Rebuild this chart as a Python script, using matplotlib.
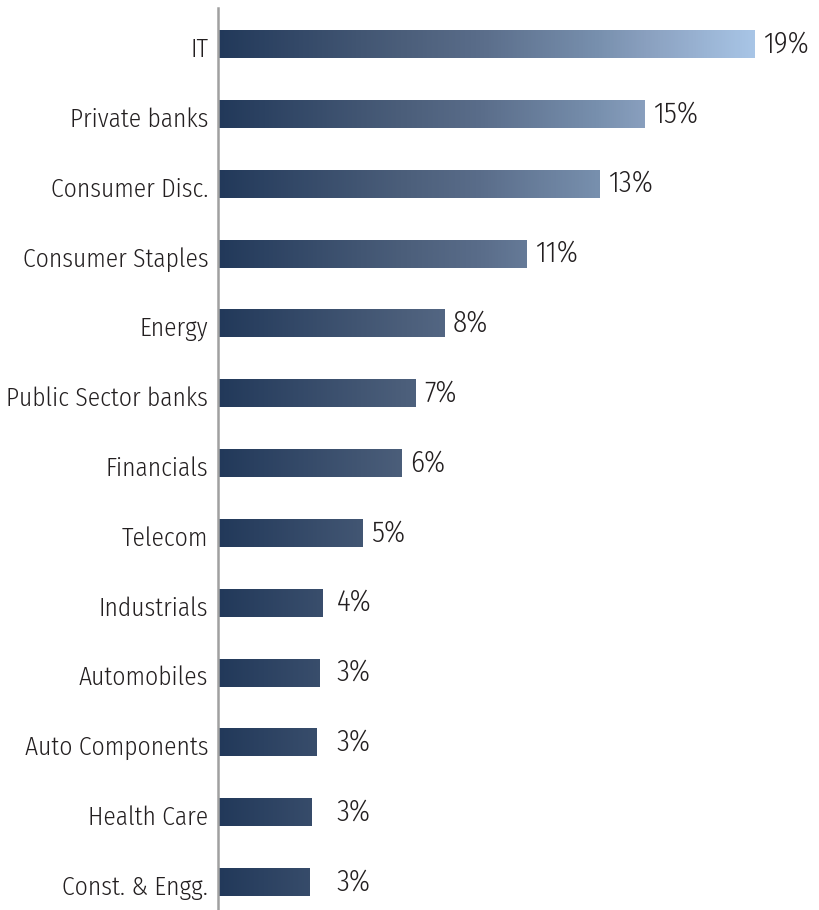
import numpy as np
import matplotlib
matplotlib.use("Agg")
import matplotlib.pyplot as plt
from matplotlib.colors import LinearSegmentedColormap
from matplotlib.transforms import ScaledTranslation

categories = ["IT", "Private banks", "Consumer Disc.", "Consumer Staples", "Energy",
              "Public Sector banks", "Financials", "Telecom", "Industrials",
              "Automobiles", "Auto Components", "Health Care", "Const. & Engg."]
values = [19.0, 15.1, 13.5, 10.9, 8.0, 7.0, 6.5, 5.1, 3.7, 3.6, 3.5, 3.3, 3.25]
labels = ["19%", "15%", "13%", "11%", "8%", "7%", "6%", "5%", "4%", "3%", "3%", "3%", "3%"]

plt.rcParams['font.family'] = ['Fira Sans Condensed', 'DejaVu Sans']
plt.rcParams['font.weight'] = 300
FS = 18.3
FS_VAL = 21

cmap = LinearSegmentedColormap.from_list("grad", [
    (0.0, "#22395a"), (0.34, "#4b5e7a"), (0.49, "#5a6d8a"),
    (0.71, "#7890ae"), (0.80, "#8aa0bf"), (1.0, "#a8c5e6")])

fig = plt.figure(figsize=(8.2, 9.1), dpi=100)
ax = fig.add_axes([218/820, 0, 600/820, 902/910])
vmax = max(values)
h = 0.4
for i, (v, lab) in enumerate(zip(values, labels)):
    grad = np.linspace(0, v / vmax, 400).reshape(1, -1)
    ax.imshow(grad, cmap=cmap, vmin=0, vmax=1, aspect='auto',
              extent=[0, v, i + h/2, i - h/2], interpolation='bilinear', zorder=2)
    ax.text(max(v, 3.9) + 0.3, i, lab, va='center', ha='left',
            fontsize=FS_VAL, fontweight=300, color='#231f20')

ax.set_xlim(0, 600/537*19)
ax.set_ylim(len(categories) - 1 + 0.40, -0.516)
ax.set_yticks(range(len(categories)))
ax.set_yticklabels(categories, fontsize=FS, fontweight=300, color='#231f20')
ax.tick_params(axis='y', length=0, pad=7)
off = ScaledTranslation(0, -3/100, fig.dpi_scale_trans)
for t in ax.get_yticklabels():
    t.set_transform(t.get_transform() + off)
ax.set_xticks([])
for s in ['top', 'right', 'bottom']:
    ax.spines[s].set_visible(False)
ax.spines['left'].set_color('#a0a0a0')
ax.spines['left'].set_linewidth(1.8)
ax.spines['left'].set_zorder(3)

fig.savefig("out.png", dpi=100)
